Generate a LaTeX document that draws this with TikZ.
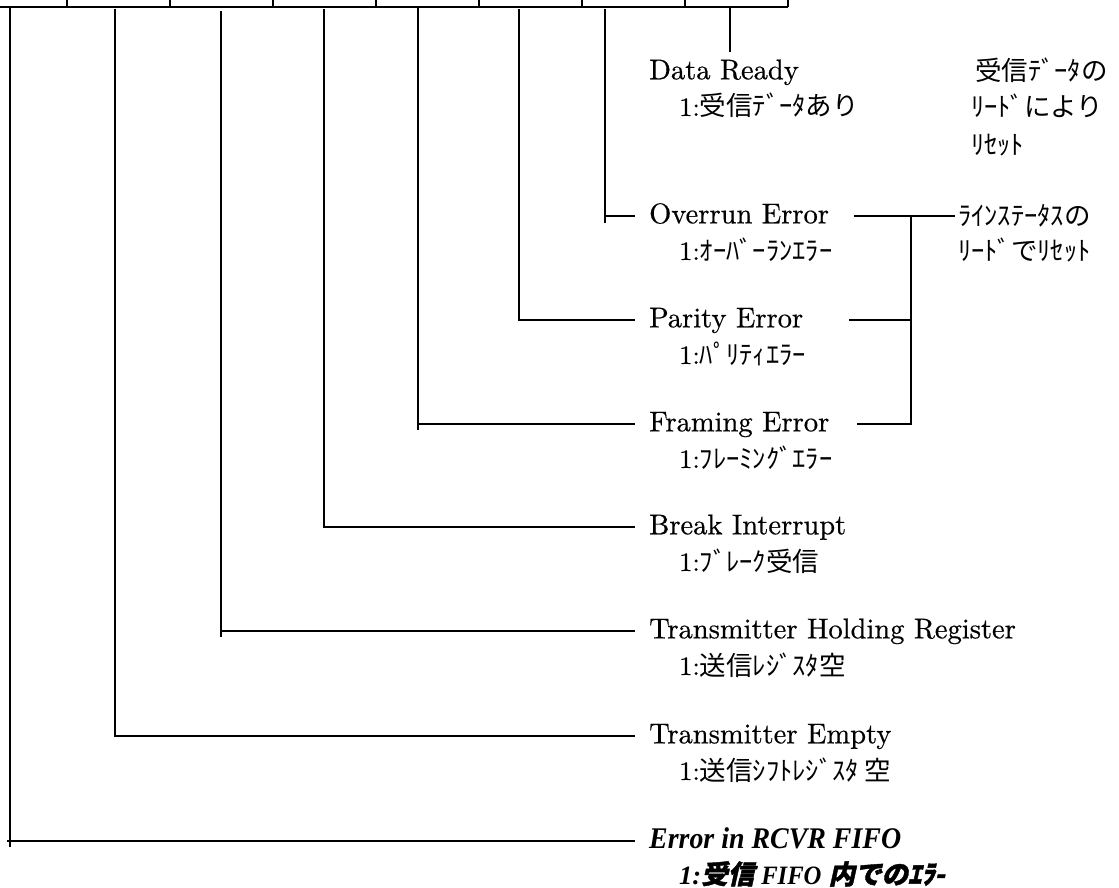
\documentclass[tikz,border=0pt]{standalone}
\usepackage{fontspec}
\usepackage{graphicx}
\newfontfamily\enf{lmroman10-regular.otf}[FakeBold=0.5]
\newfontfamily\libs{Liberation Serif}
\newfontfamily\jp{Noto Sans CJK JP}
\newfontfamily\jpit[FakeSlant=0.22,FakeBold=1.5]{Noto Sans CJK JP}
\begin{document}
\begin{tikzpicture}[x=1pt,y=-1pt,
  reg/.style={line width=2.6pt},
  wire/.style={line width=1.6pt},
  en/.style={anchor=west,inner xsep=14pt,inner ysep=0pt,font=\fontsize{28.5}{32}\selectfont\enf},
  ja/.style={anchor=base west,inner sep=0pt,font=\fontsize{26.5}{30}\selectfont\jp},
  jaw/.style={anchor=west,inner xsep=3pt,inner ysep=0pt,font=\fontsize{26.5}{30}\selectfont\jp}]
\useasboundingbox (0,0) rectangle (1119,888);
% register row
\draw[reg] (0,7) -- (788,7);
\foreach \x in {67,170,273,376,479,582,685,788} \draw[reg] (\x,0) -- (\x,7);
% bit tops
\coordinate (b7) at (10,8);
\coordinate (b6) at (115,9);
\coordinate (b5) at (221,11);
\coordinate (b4) at (324,9);
\coordinate (b3) at (418,8);
\coordinate (b2) at (519,9);
\coordinate (b1) at (605,9);
\coordinate (b0) at (730,8);
\coordinate (b0end) at (730,52);
% English labels
\node[en] (dr)  at (635,72)  {\vphantom{Ay}Data Ready};
\node[en] (ovr) at (635,216) {\vphantom{Ay}Overrun Error};
\node[en] (par) at (635,320) {\vphantom{Ay}Parity Error};
\node[en] (frm) at (635,424) {\vphantom{Ay}Framing Error};
\node[en] (brk) at (635,527) {\vphantom{Ay}Break Interrupt};
\node[en] (thr) at (635,631) {\vphantom{Ay}Transmitter Holding Register};
\node[en] (tem) at (635,736) {\vphantom{Ay}Transmitter Empty};
\node[en, font=\fontsize{30}{34}\selectfont\libs\bfseries\itshape] (err) at (635,841) {\vphantom{Ay}\scalebox{0.93}[1]{Error in RCVR FIFO}};
% Japanese lines
\node[ja] (drj)  at (679,116) {{\enf 1:}受信ﾃﾞｰﾀあり};
\node[ja] (ovrj) at (679,260) {{\enf 1:}ｵｰﾊﾞｰﾗﾝｴﾗｰ};
\node[ja] (parj) at (679,364) {{\enf 1:}ﾊﾟﾘﾃｨｴﾗｰ};
\node[ja] (frmj) at (679,468) {{\enf 1:}ﾌﾚｰﾐﾝｸﾞｴﾗｰ};
\node[ja] (brkj) at (679,571) {{\enf 1:}ﾌﾞﾚｰｸ受信};
\node[ja] (thrj) at (679,675) {{\enf 1:}送信ﾚｼﾞｽﾀ空};
\node[ja] (temj) at (679,780) {{\enf 1:}送信ｼﾌﾄﾚｼﾞｽﾀ 空};
\node[ja] (errj) at (679,884) {\bfseries{\libs\itshape 1:}{\jpit\itshape 受信}\hspace{7pt}{\libs\itshape\scalebox{0.93}[1]{FIFO}}\hspace{7pt}{\jpit\itshape 内でのｴﾗ-}};
% notes
\node[ja] (n1) at (975,81)  {受信ﾃﾞｰﾀの};
\node[ja] (n2) at (971,117) {ﾘｰﾄﾞにより};
\node[ja] (n3) at (971,154) {ﾘｾｯﾄ};
\node[jaw] (ls) at (955,216) {ﾗｲﾝｽﾃｰﾀｽの};
\node[ja] (ls2) at (958,260) {ﾘｰﾄﾞでﾘｾｯﾄ};
% bit wires
\draw[wire] (b0) -- (b0end);
\draw[wire] (b1) -- ++(0,214);
\draw[wire] (b1 |- ovr.west) -- (ovr.west);
\draw[wire] (b2) |- (par.west);
\draw[wire] (b3) -- ++(0,422);
\draw[wire] (b3 |- frm.west) -- (frm.west);
\draw[wire] (b4) |- (brk.west);
\draw[wire] (b5) -- ++(0,626);
\draw[wire] (b5 |- thr.west) -- (thr.west);
\draw[wire] (b6) |- (tem.west);
\draw[wire] (b7) -- ++(0,839);
\draw[wire] ([xshift=-3pt]b7 |- err.west) -- (err.west);
% bracket for line status
\coordinate (brO) at (854,216);
\coordinate (brX) at (911,216);
\coordinate (brP) at (849,320);
\coordinate (brF) at (857,424);
\draw[wire] (brO) -- (ls.west);
\draw[wire] (brP) -- (brP -| brX);
\draw[wire] (brF) -| (brX);
\end{tikzpicture}
\end{document}
